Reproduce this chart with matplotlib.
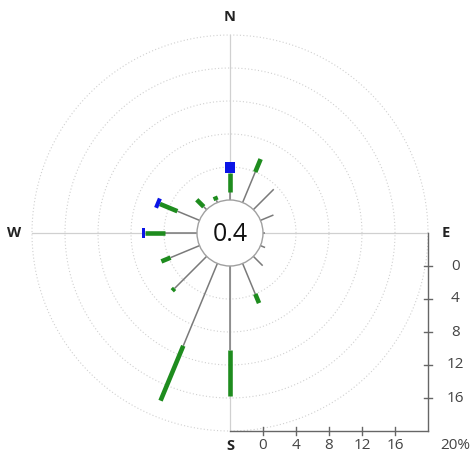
import matplotlib
matplotlib.use("Agg")
import matplotlib.pyplot as plt
import numpy as np

plt.rcParams['font.family'] = ['Open Sans', 'DejaVu Sans']

# wind rose data (percent of time per direction, per speed class)
directions = [0, 22.5, 45, 67.5, 90, 112.5, 135, 157.5,
              180, 202.5, 225, 247.5, 270, 292.5, 315, 337.5]
class1 = [1.0, 4.0, 3.5, 1.7, 0.3, 0.6, 1.6, 4.0,
          10.2, 10.8, 5.5, 3.8, 3.9, 2.9, 0.5, 0.3]
class2 = [2.3, 1.7, 0.0, 0.0, 0.0, 0.0, 0.0, 1.2,
          5.6, 7.2, 0.4, 1.2, 2.4, 2.3, 1.2, 0.5]
class3 = [1.3, 0.0, 0.0, 0.0, 0.0, 0.0, 0.0, 0.0,
          0.0, 0.0, 0.0, 0.0, 0.4, 0.5, 0.0, 0.0]
calm = 0.4
grid_pct = [4, 8, 12, 16, 20]
tick_labels = ['0', '4', '8', '12', '16']

classes = [class1, class2, class3]
class_colors = ['#7a7a7a', '#1e8c1e', '#0a14e6']
class_widths = [1.1, 3.3, 7.2]

R0 = 4.0  # calm circle radius, in percent units
RMAX = R0 + 20

fig = plt.figure(figsize=(4.75, 4.57), dpi=100)
ax = fig.add_axes([0, 0, 1, 1])
ax.set_xlim(-230 / 8.25, 245 / 8.25)
ax.set_ylim(-224 / 8.25, 233 / 8.25)
ax.axis('off')

# dotted grid circles
t = np.linspace(0, 2 * np.pi, 400)
for g in grid_pct:
    r = R0 + g
    ax.plot(r * np.cos(t), r * np.sin(t), color='#d0d0d0', lw=0.8,
            ls=(0, (1, 2)), zorder=1)

# cross lines
ax.plot([0, 0], [-RMAX, RMAX], color='#d0d0d0', lw=0.9, zorder=1)
ax.plot([-RMAX, RMAX], [0, 0], color='#d0d0d0', lw=0.9, zorder=1)

# spokes
for i, d in enumerate(directions):
    th = np.deg2rad(d)
    start = R0
    for vals, col, lw in zip(classes, class_colors, class_widths):
        v = vals[i]
        if v <= 0:
            continue
        end = start + v
        ax.plot([start * np.sin(th), end * np.sin(th)],
                [start * np.cos(th), end * np.cos(th)],
                color=col, lw=lw, solid_capstyle='butt', zorder=3)
        start = end

# calm circle
calm_circle = plt.Circle((0, 0), R0, facecolor='white', edgecolor='#a0a0a0',
                         lw=1.0, zorder=4)
ax.add_patch(calm_circle)
ax.text(0, -0.2, f'{calm}', ha='center', va='center', fontsize=18,
        fontweight='medium', color='#111111', zorder=5)

# compass labels
lab = 26.2
for txt, x, y in [('N', 0, lab), ('S', 0, -25.8), ('E', lab, 0), ('W', -lab, 0)]:
    ax.text(x, y, txt, ha='center', va='center', fontsize=10.5,
            fontweight='bold', color='#222222')

# scale axes at right and bottom
axis_col = '#666666'
ax.plot([RMAX, RMAX], [0, -RMAX], color=axis_col, lw=1.0)
ax.plot([0, RMAX], [-RMAX, -RMAX], color=axis_col, lw=1.0)
tl = 0.45
for s in tick_labels:
    p = R0 + float(s)
    ax.plot([RMAX - tl, RMAX + tl], [-p, -p], color=axis_col, lw=1.0)
    ax.text(RMAX + 3.3, -p, s, ha='center', va='center', fontsize=11,
            color='#444444')
    ax.plot([p, p], [-RMAX - tl, -RMAX + tl], color=axis_col, lw=1.0)
    ax.text(p, -25.8, s, ha='center', va='center', fontsize=11,
            color='#444444')
ax.text(RMAX + 3.3, -25.8, '20%', ha='center', va='center', fontsize=11,
        color='#444444')

fig.savefig('out.png', dpi=100)
